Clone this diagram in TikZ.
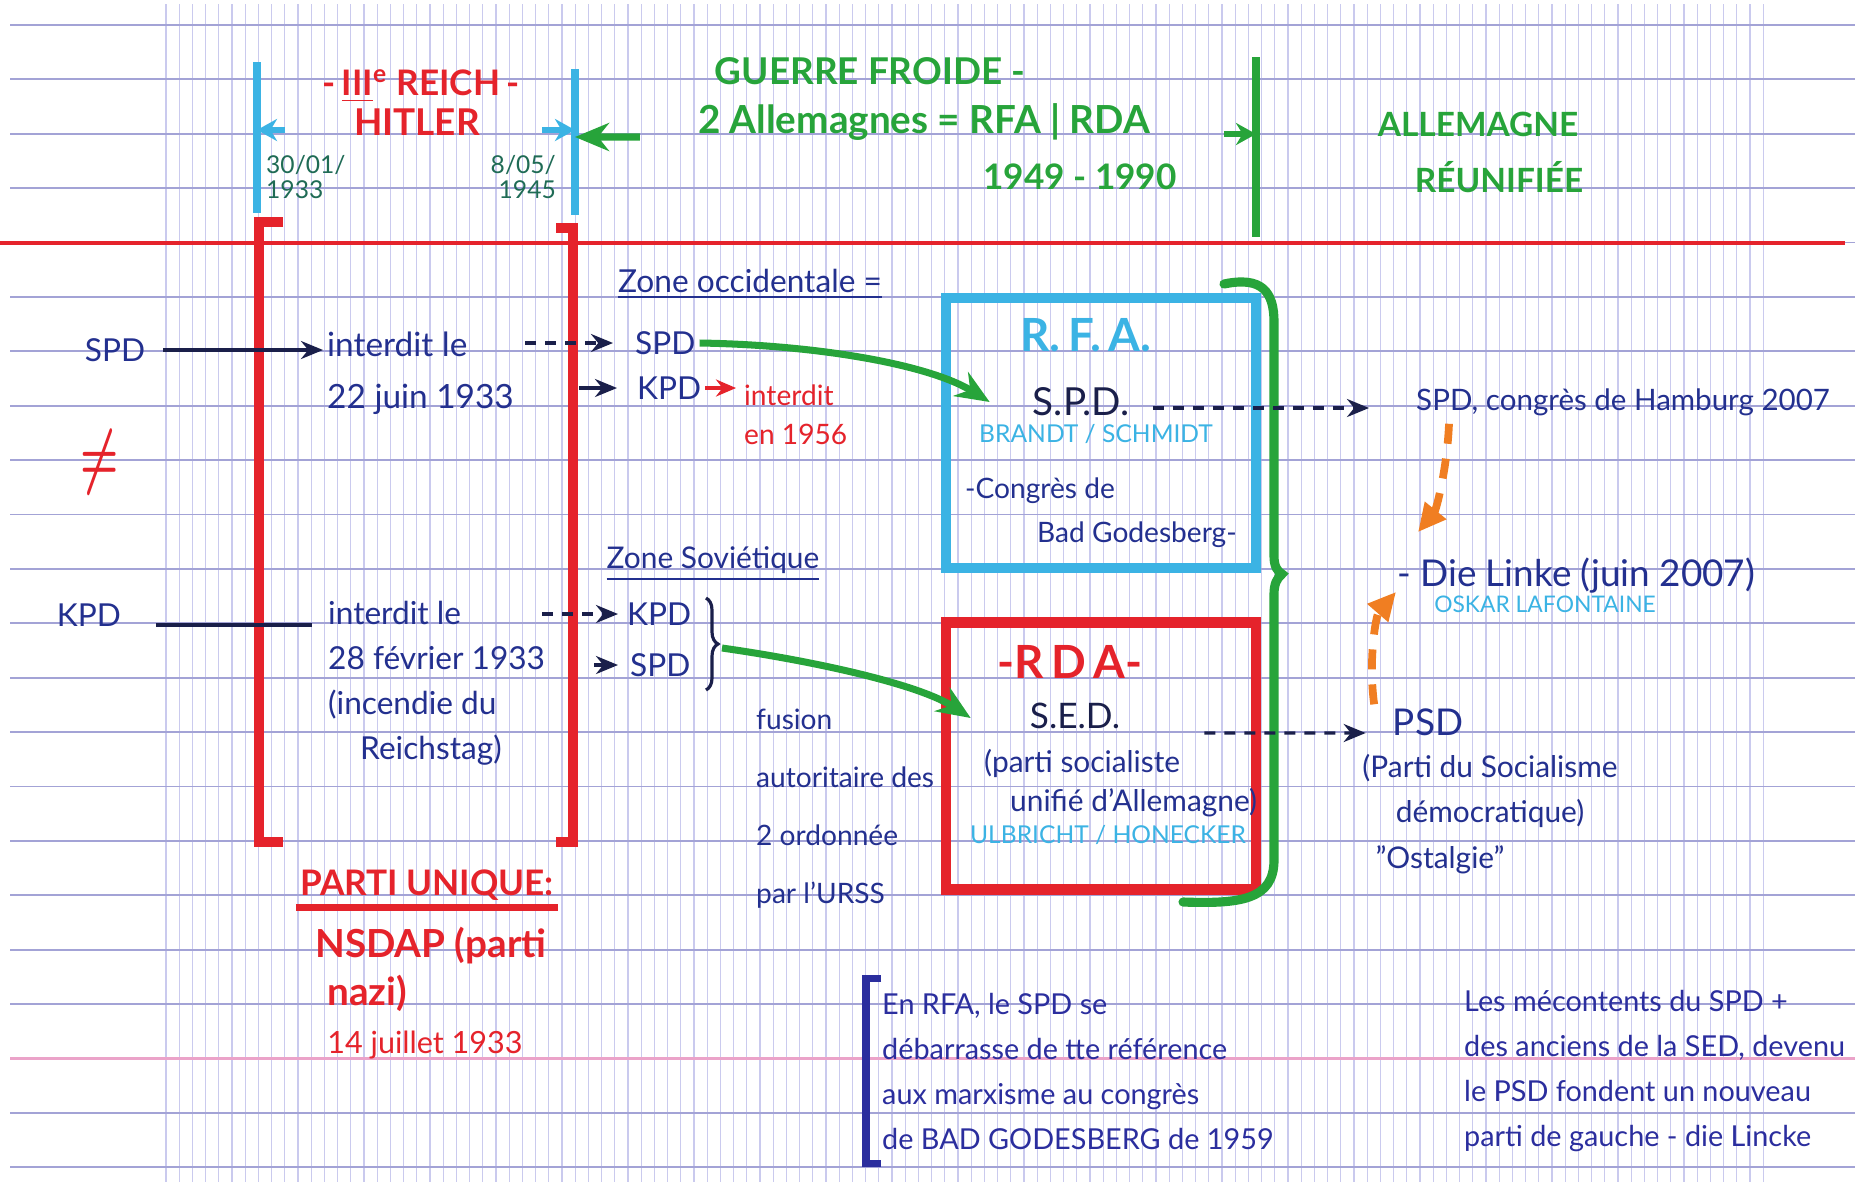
\documentclass[tikz,border=0pt]{standalone}
\usepackage{fontspec}
\setmainfont{Lato}
\usetikzlibrary{arrows.meta, decorations.pathreplacing}

\newcommand{\hw}[2]{\fontsize{#1}{#2}\selectfont}

\begin{document}
\begin{tikzpicture}[x=0.1mm, y=-0.1mm,
    txt/.style={text=inkBlue, align=left, inner sep=1pt},
    redtxt/.style={text=redInk, align=left, inner sep=1pt},
    cyantxt/.style={text=cyanInk, inner sep=1pt},
    greentxt/.style={text=greenInk, inner sep=1pt},
    datetxt/.style={text=dateInk, inner sep=1pt, font=\hw{7}{7}},
    link/.style={-{Stealth[length=2.2mm,width=1.8mm]}, line width=0.9pt, draw=inkDark},
    dlink/.style={link, dash pattern=on 1.1mm off 0.9mm},
    garrow/.style={-{Stealth[length=3.4mm,width=2.8mm]}, line width=2pt, draw=greenInk},
    oarrow/.style={-{Triangle[length=2.8mm,width=2.6mm]}, line width=2.2pt, draw=orangeInk, dash pattern=on 2mm off 1.5mm},
    tick/.style={line width=1.6pt, -{Stealth[length=2mm,width=2.2mm]}},
    redbracket/.style={draw=redInk, line width=2.6pt},
    notebracket/.style={draw=inkNote, line width=2.2pt},
    partybox/.style={minimum width=31mm, inner sep=0pt}
]
    % Define colours
    \definecolor{inkBlue}{HTML}{23308F}
    \definecolor{inkDark}{HTML}{1A1F4A}
    \definecolor{inkNote}{HTML}{2B2E9E}
    \definecolor{redInk}{HTML}{E5232B}
    \definecolor{greenInk}{HTML}{27A43A}
    \definecolor{cyanInk}{HTML}{3BB3E4}
    \definecolor{dateInk}{HTML}{1F6B55}
    \definecolor{orangeInk}{HTML}{F07E22}
    \definecolor{gridV}{HTML}{CACAEE}
    \definecolor{gridH}{HTML}{A3A3D6}
    \definecolor{pinkLine}{HTML}{EBA3C9}

    % Paper
    \fill[white] (0,0) rectangle (1855,1182);
    \useasboundingbox (0,0) rectangle (1855,1182);

    % Draw grid
    \foreach \i in {0,...,121}
        \draw[gridV, line width=0.35pt] ({166+13.2*\i},4) -- ({166+13.2*\i},1182);
    \foreach \i in {0,...,21}
        \draw[gridH, line width=0.5pt] (10,{24.9+54.4*\i}) -- (1855,{24.9+54.4*\i});
    \draw[pinkLine, line width=0.7pt] (10,1058.5) -- (1855,1058.5);
    \draw[redInk, line width=0.9pt] (0,243) -- (1845,243);

    % Third Reich
    \draw[cyanInk, line width=2.2pt] (257,62) -- (257,213);
    \draw[cyanInk, line width=2.2pt] (575,69) -- (575,215);
    \coordinate (reichStart) at (257,130);
    \coordinate (reichEnd) at (575,130);
    \draw[cyanInk, tick] ([xshift=2.8mm]reichStart) -- (reichStart);
    \draw[cyanInk, tick] ([xshift=-3.3mm]reichEnd) -- (reichEnd);
    \node[redtxt, font=\hw{10}{12}\bfseries] (reich) at (421,86) {-\,\underline{III}\textsuperscript{e}\ REICH\,-};
    \node[redtxt, font=\hw{10.5}{12}\bfseries] (hitler) at (417,122) {HITLER};
    \node[datetxt, anchor=west, align=left] (dateA) at (262,177) {30/01/\\1933};
    \node[datetxt, anchor=east, align=right] (dateB) at (560,177) {8/05/\\1945};

    % Cold war
    \node[greentxt, font=\hw{10.5}{12}\bfseries] (guerre) at (870,71) {GUERRE FROIDE -};
    \node[greentxt, font=\hw{11}{12}\bfseries] (allem) at (924,122) {2 Allemagnes = RFA | RDA};
    \node[greentxt, font=\hw{10}{12}\bfseries] (years) at (1080,177) {1949 - 1990};
    \draw[garrow] ([xshift=-5.4mm,yshift=-1.5mm]allem.west) -- ([yshift=-0.7mm]reichEnd);

    % Reunified Germany
    \draw[greenInk, line width=2.4pt] (1256,57) -- (1256,237);
    \coordinate (unifLine) at (1256,134);
    \draw[greenInk, tick] ([xshift=-3.2mm]unifLine) -- (unifLine);
    \node[greentxt, font=\hw{9.5}{12}\bfseries] (allemagne) at (1478,124) {ALLEMAGNE};
    \node[greentxt, font=\hw{9.5}{12}\bfseries] (reunifiee) at (1499,177) {RÉUNIFIÉE};

    % Brackets of the Reich
    \draw[redbracket] (283,222) -- (259,222) -- (259,842) -- (283,842);
    \draw[redbracket] (556,228) -- (573,228) -- (573,842) -- (556,842);

    % Parties before 1933
    \node[txt, font=\hw{9}{11}] (spdL) at (115,350) {SPD};
    \node[txt, font=\hw{9}{11}] (kpdL) at (89,615) {KPD};
    \node[redtxt, font=\hw{22}{22}\boldmath, xscale=0.6] (neq) at (100,462) {$\neq$};
    \node[txt, font=\hw{9.5}{14.8}, anchor=west] (banA) at (323,373) {interdit le\\22 juin 1933};
    \node[txt, font=\hw{9}{12.8}, anchor=west] (banB) at (324,683) {interdit le\\28 février 1933\\(incendie du\\\hspace*{3.2mm}Reichstag)};
    \draw[link] ([xshift=1.4mm]spdL.east) -- (spdL.east -| banA.west);
    \draw[inkDark, line width=0.9pt, shorten >=1.2mm] ([xshift=3.1mm,yshift=-1mm]kpdL.east) -- ([yshift=-1mm]kpdL.east -| banB.west);

    % Western zone
    \node[txt, font=\hw{9}{11}] (zoneO) at (750,284) {\underline{Zone occidentale =}};
    \node[txt, font=\hw{9}{11}, anchor=west] (spdW) at (631,343) {SPD};
    \node[txt, font=\hw{9}{11}, anchor=west] (kpdW) at (633,388) {KPD};
    \node[redtxt, font=\hw{8}{11}, anchor=west] (banW) at (740,415) {interdit\\en 1956};
    \draw[dlink] ([xshift=-10.6mm]spdW.west) -- ([xshift=-1.8mm]spdW.west);
    \draw[link] ([xshift=-5.4mm]kpdW.west) -- ([xshift=-1.6mm]kpdW.west);
    \draw[redInk, line width=0.9pt, -{Stealth[length=2mm,width=1.7mm]}, shorten >=0.4mm] (kpdW.east) -- (kpdW.east -| banW.west);

    % Soviet zone
    \node[txt, font=\hw{8.5}{11}] (zoneS) at (713,564) {\underline{Zone Soviétique}};
    \node[txt, font=\hw{9}{11}, anchor=west] (kpdS) at (623,614) {KPD};
    \node[txt, font=\hw{9}{11}, anchor=west] (spdS) at (626,665) {SPD};
    \draw[dlink] ([xshift=-8.1mm]kpdS.west) -- ([xshift=-0.5mm]kpdS.west);
    \draw[link] ([xshift=-3.2mm]spdS.west) -- ([xshift=-0.8mm]spdS.west);
    \draw[inkDark, line width=0.9pt, decorate, decoration={brace, amplitude=1.2mm}] (706,598) -- (706,690);
    \coordinate (fuse) at (722,648);
    \node[txt, font=\hw{8}{16.5}, anchor=west] (fusion) at (752,809) {fusion\\autoritaire des\\2 ordonnée\\par l'URSS};

    % RFA
    \node[partybox, draw=cyanInk, line width=2.6pt, minimum height=27mm] (rfa) at (1101,433) {};
    \node[cyantxt, font=\hw{13}{14}\bfseries] (rfaT) at (1086,335) {R.\,F.\,A.};
    \node[text=inkDark, inner sep=1pt, font=\hw{11}{12}] (rfaSpd) at (1081,402) {S.P.D.};
    \node[cyantxt, font=\hw{7}{8}] (rfaNames) at (1096,434) {BRANDT / SCHMIDT};
    \node[txt, font=\hw{8}{10}, anchor=west] (congresA) at (961,491) {-Congrès de};
    \node[txt, font=\hw{8}{10}, anchor=west] (congresB) at (1033,535) {Bad Godesberg-};
    \draw[garrow] (spdW.east) .. controls (820,345) and (930,365) .. ([xshift=-3.9mm]rfaSpd.west);

    % RDA
    \node[partybox, draw=redInk, line width=3pt, minimum height=26.7mm] (rda) at (1101,756) {};
    \node[redtxt, font=\hw{13}{14}\bfseries] (rdaT) at (1070,662) {-R\,D\,A-};
    \node[text=inkDark, inner sep=1pt, font=\hw{10}{12}] (sed) at (1075,716) {S.E.D.};
    \node[txt, font=\hw{8.5}{11}, anchor=west] (sedFull) at (980,783) {(parti socialiste\\\hspace*{2.6mm}unifié d'Allemagne)};
    \node[cyantxt, font=\hw{7}{8}] (rdaNames) at (1108,835) {ULBRICHT / HONECKER};
    \draw[garrow] (fuse) .. controls (820,662) and (920,685) .. ([xshift=-5.5mm,yshift=-0.2mm]sed.west);

    % Brace of the two Germanies
    \draw[greenInk, line width=2.6pt, line cap=round] (1224,284) .. controls (1262,276) and (1274,292) .. (1274,322)
        -- (1274,556) .. controls (1274,566) and (1277,571) .. (1282,574) .. controls (1277,578) and (1274,584) .. (1274,594)
        -- (1274,860) .. controls (1274,900) and (1240,904) .. (1183,902);

    % After reunification
    \node[txt, font=\hw{8.4}{11}, anchor=west] (spdH) at (1412,402) {SPD, congrès de Hamburg 2007};
    \node[txt, font=\hw{10.5}{12}, anchor=west] (linke) at (1393,576) {-\ Die Linke (juin 2007)};
    \node[cyantxt, font=\hw{6.5}{8}] (oskar) at (1545,604) {OSKAR LAFONTAINE};
    \node[txt, font=\hw{10.5}{12}] (psd) at (1428,722) {PSD};
    \node[txt, font=\hw{8.5}{12.8}, align=center] (psdFull) at (1490,791) {(Parti du Socialisme\\démocratique)};
    \node[txt, font=\hw{8.5}{11}] (ostalgie) at (1440,860) {"Ostalgie"};
    \draw[dlink] ([xshift=2mm,yshift=-0.6mm]rfaSpd.east) -- ([xshift=-4.3mm,yshift=-0.6mm]spdH.west);
    \draw[dlink] ([xshift=8mm,yshift=-1.7mm]sed.east) -- ([xshift=-2.3mm,yshift=-1.1mm]psd.west);
    \draw[oarrow] ([xshift=3.7mm,yshift=-0.4mm]spdH.south west) .. controls (1447,470) and (1436,510) .. ([xshift=2.5mm,yshift=2.2mm]linke.north west);
    \draw[oarrow] ([xshift=-1.45mm]psd.north west) .. controls (1368,660) and (1376,615) .. ([xshift=0.3mm,yshift=0.6mm]linke.south west);

    % Single party
    \node[redtxt, font=\hw{10}{12}\bfseries] (parti) at (427,885) {PARTI UNIQUE:};
    \draw[redInk, line width=1.8pt] ([yshift=-0.3mm]parti.south west) -- ([yshift=-0.3mm]parti.south east);
    \node[redtxt, font=\hw{11}{13.7}\bfseries, anchor=west] (nsdap) at (311,969) {NSDAP (parti\\\hspace*{1.2mm}nazi)};
    \node[redtxt, font=\hw{8.7}{11}] (juillet) at (425,1045) {14 juillet 1933};

    % Notes
    \node[txt, text=inkNote, font=\hw{8.2}{12.8}, anchor=west] (noteRFA) at (878,1071) {En RFA, le SPD se\\débarrasse de tte référence\\aux marxisme au congrès\\de BAD GODESBERG de 1959};
    \draw[notebracket] ([xshift=0.3mm,yshift=1mm]noteRFA.north west) -- ([xshift=-1.2mm,yshift=1mm]noteRFA.north west)
        -- ([xshift=-1.2mm,yshift=-1mm]noteRFA.south west) -- ([xshift=0.3mm,yshift=-1mm]noteRFA.south west);
    \node[txt, text=inkNote, font=\hw{8.2}{12.8}, anchor=west] (notePSD) at (1460,1071) {Les mécontents du SPD +\\des anciens de la SED, devenu\\le PSD fondent un nouveau\\parti de gauche - die Lincke};

\end{tikzpicture}
\end{document}
